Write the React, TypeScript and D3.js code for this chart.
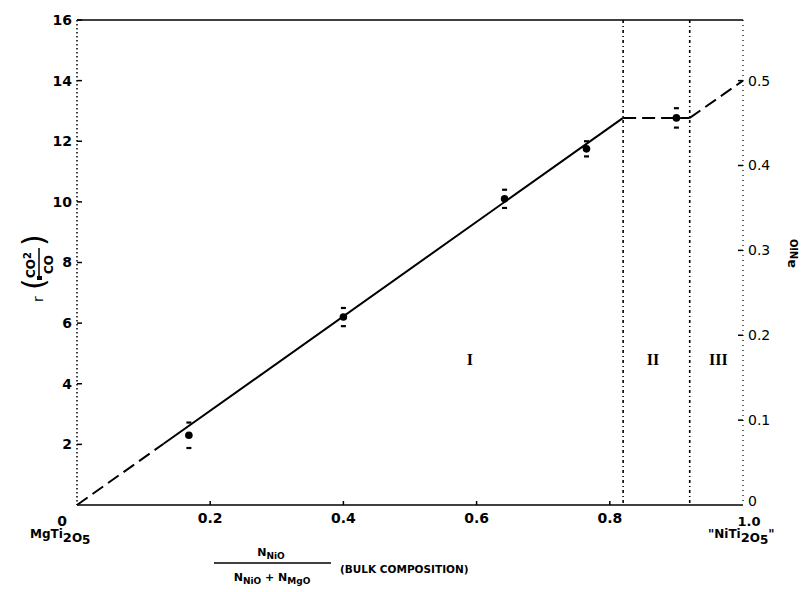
import React from "react";
import * as d3 from "d3";

// ---- data ----
const xTicks = [0, 0.2, 0.4, 0.6, 0.8, 1.0];
const xTickLabels = ["0", "0.2", "0.4", "0.6", "0.8", "1.0"];
const yTicks = [0, 2, 4, 6, 8, 10, 12, 14, 16];
const yRTicks = [0, 0.1, 0.2, 0.3, 0.4, 0.5];
const yRTickLabels = ["0", "0.1", "0.2", "0.3", "0.4", "0.5"];

const pointX = [0.168, 0.40, 0.642, 0.765, 0.90];
const pointY = [2.3, 6.2, 10.1, 11.75, 12.77];
const pointErr = [0.42, 0.3, 0.3, 0.25, 0.32];

const trendX = [0, 0.13, 0.82, 0.92, 1.0];
const trendY = [0, 2.02, 12.77, 12.77, 14.0];
const trendStyle = ["dash", "solid", "dash", "dash"];

const boundaries = [0.82, 0.92];
const regionLabels = ["I", "II", "III"];
const regionX = [0.59, 0.865, 0.963];
const regionY = 4.8;

const FONT = "'DejaVu Sans', Verdana, sans-serif";

export default function App() {
  const W = 807, H = 592;
  const x = d3.scaleLinear().domain([0, 1]).range([77, 743]);
  const y = d3.scaleLinear().domain([0, 16]).range([505, 20]);
  const yR = d3.scaleLinear().domain([0, 0.5]).range([505, y(14)]);
  const line = d3.line<[number, number]>().x(d => x(d[0])).y(d => y(d[1]));

  const segs = trendStyle.map((s, i) => ({
    style: s,
    d: line([[trendX[i], trendY[i]], [trendX[i + 1], trendY[i + 1]]]) as string,
  }));

  const x0 = x(0), x1 = x(1), yTop = y(16), yBot = y(0);

  return (
    <svg width={W} height={H} style={{ position: "absolute", left: 0, top: 0, background: "#fff" }}
      fontFamily={FONT} fontWeight="bold" fill="#000">
      <rect x={0} y={0} width={W} height={H} fill="#fff" />
      {/* frame */}
      <line x1={x0} y1={yTop} x2={x1} y2={yTop} stroke="#000" strokeWidth={1.6} />
      <line x1={x0} y1={yBot} x2={x1} y2={yBot} stroke="#000" strokeWidth={1.5} />
      <line x1={x0} y1={yTop} x2={x0} y2={yBot} stroke="#000" strokeWidth={1.5} strokeDasharray="1.5,2.5" />
      <line x1={x1} y1={yTop} x2={x1} y2={yBot} stroke="#000" strokeWidth={1.2} strokeDasharray="1,4" />

      {/* region boundaries */}
      {boundaries.map((b, i) => (
        <line key={"b" + i} x1={x(b)} y1={yTop} x2={x(b)} y2={yBot} stroke="#000" strokeWidth={1.6} strokeDasharray="3,3,1,3" />
      ))}

      {/* left ticks */}
      {yTicks.map(t => (
        <g key={"yl" + t}>
          {t > 0 && <line x1={x0} x2={x0 + 5} y1={y(t)} y2={y(t)} stroke="#000" strokeWidth={1.5} />}
          <text x={t === 0 ? x0 - 10 : x0 - 5} y={t === 0 ? y(t) + 16 : y(t)} dy="0.35em" textAnchor="end" fontSize={14}>
            {t}
          </text>
        </g>
      ))}

      {/* bottom ticks */}
      {xTicks.map((t, i) => (
        <g key={"xb" + t}>
          {t > 0 && t < 1 && <line x1={x(t)} x2={x(t)} y1={yBot} y2={yBot - 4} stroke="#000" strokeWidth={1.5} />}
          {i > 0 && (
            <text x={x(t) + (t === 1 ? 6 : 0)} y={yBot + (t === 1 ? 21 : 18)} textAnchor="middle" fontSize={t === 1 ? 13 : 14}>
              {xTickLabels[i]}
            </text>
          )}
        </g>
      ))}

      {/* right ticks */}
      {yRTicks.map((t, i) => (
        <g key={"yr" + t}>
          {t > 0 && <line x1={x1 - 5} x2={x1} y1={yR(t)} y2={yR(t)} stroke="#000" strokeWidth={1.5} />}
          <text x={x1 + 5} y={yR(t) - (t === 0 ? 4 : 0)} dy="0.35em" textAnchor="start" fontSize={14} fontWeight="normal">
            {yRTickLabels[i]}
          </text>
        </g>
      ))}

      {/* end labels */}
      <text x={30} y={538} fontSize={12}>
        MgTi<tspan dy={4} fontSize={13}>2</tspan><tspan dy={0}>O</tspan><tspan dy={2} fontSize={12}>5</tspan>
      </text>
      <text x={708} y={538} fontSize={12}>
        "NiTi<tspan dy={4} fontSize={13}>2</tspan><tspan dy={0}>O</tspan><tspan dy={2}>5</tspan><tspan dy={-6}>"</tspan>
      </text>

      {/* trend line */}
      {segs.map((s, i) => (
        <path key={"s" + i} d={s.d} fill="none" stroke="#000" strokeWidth={2}
          strokeDasharray={s.style === "dash" ? "13,6" : undefined} />
      ))}

      {/* data points */}
      {pointX.map((px, i) => (
        <g key={"p" + i}>
          <line x1={x(px) - 2.5} x2={x(px) + 2.5} y1={y(pointY[i] + pointErr[i])} y2={y(pointY[i] + pointErr[i])} stroke="#000" strokeWidth={2.2} />
          <line x1={x(px) - 2.5} x2={x(px) + 2.5} y1={y(pointY[i] - pointErr[i])} y2={y(pointY[i] - pointErr[i])} stroke="#000" strokeWidth={2.2} />
          <circle cx={x(px)} cy={y(pointY[i])} r={3.8} fill="#000" />
        </g>
      ))}

      {/* region labels */}
      {regionLabels.map((r, i) => (
        <text key={"r" + i} x={x(regionX[i])} y={y(regionY)} dy="0.35em" textAnchor="middle"
          fontFamily="'Liberation Serif', serif" fontSize={16} fontWeight="bold">
          {r}
        </text>
      ))}

      {/* y label left */}
      <g transform="translate(38,258) rotate(-90)" fontSize={13}>
        <text x={-44} y={5} fontWeight="normal" fontSize={14}>r</text>
        <text x={-32} y={6} fontSize={30} fontWeight="normal">(</text>
        <text x={-20} y={-3} fontSize={12}>CO<tspan dy={-4} fontSize={10}>2</tspan></text>
        <line x1={-21} x2={10} y1={1} y2={1} stroke="#000" strokeWidth={1.5} />
        <rect x={-22} y={-1} width={4} height={5} fill="#000" />
        <text x={-16} y={15} fontSize={12}>CO</text>
        <text x={12} y={6} fontSize={30} fontWeight="normal">)</text>
      </g>

      {/* y label right */}
      <g transform="translate(795,268) rotate(-90)">
        <text x={0} y={0} fontSize={13}>a<tspan dy={3} fontSize={10}>NiO</tspan></text>
      </g>

      {/* x label */}
      <text x={271} y={556} textAnchor="middle" fontSize={11}>
        N<tspan dy={3} fontSize={9}>NiO</tspan>
      </text>
      <line x1={214} x2={331} y1={563} y2={563} stroke="#000" strokeWidth={1.3} />
      <text x={272} y={581} textAnchor="middle" fontSize={11}>
        N<tspan dy={3} fontSize={9}>NiO</tspan><tspan dy={-3}> + N</tspan><tspan dy={3} fontSize={9}>MgO</tspan>
      </text>
      <text x={340} y={573} fontSize={10.5}>(BULK COMPOSITION)</text>
    </svg>
  );
}
